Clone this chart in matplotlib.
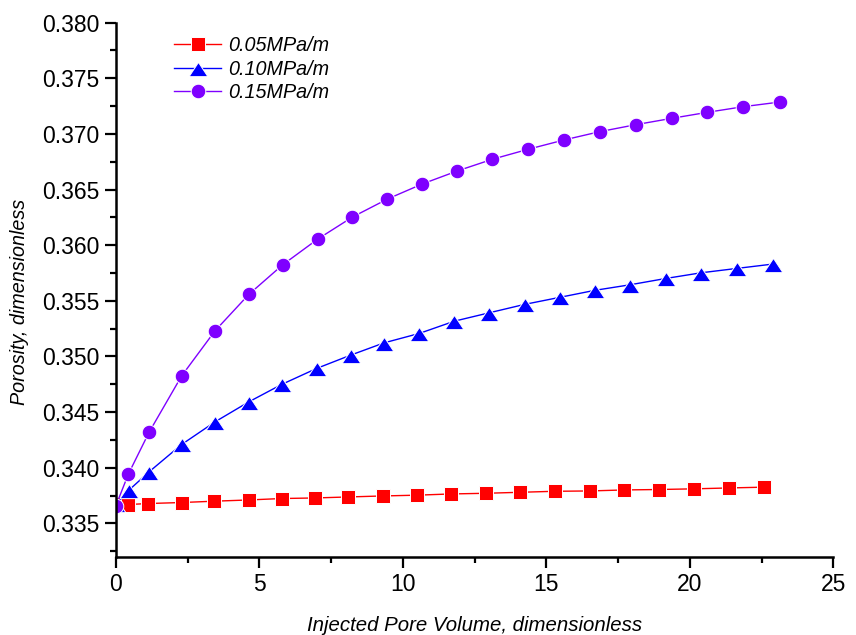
import matplotlib
matplotlib.use("Agg")
import matplotlib.pyplot as plt
from matplotlib.ticker import MultipleLocator, FormatStrFormatter

plt.rcParams['font.family'] = ['Liberation Sans', 'DejaVu Sans']

# Injected pore volume (dimensionless) and porosity for each pressure gradient
pv_005 = [0, 0.43, 1.13, 2.29, 3.43, 4.62, 5.78, 6.93, 8.09, 9.29, 10.48,
          11.67, 12.88, 14.08, 15.29, 16.50, 17.71, 18.92, 20.14, 21.36, 22.58]
phi_005 = [0.3367, 0.33669, 0.33678, 0.33687, 0.33699, 0.33710, 0.33723, 0.33728,
           0.33737, 0.33746, 0.33753, 0.33764, 0.33770, 0.33779, 0.33788, 0.33791,
           0.33800, 0.33804, 0.33810, 0.33818, 0.33825]

pv_010 = [0, 0.45, 1.15, 2.29, 3.45, 4.63, 5.77, 6.99, 8.18, 9.34, 10.57,
          11.79, 13.00, 14.24, 15.46, 16.68, 17.91, 19.16, 20.39, 21.63, 22.88]
phi_010 = [0.3367, 0.33798, 0.33962, 0.34209, 0.34412, 0.34592, 0.34748, 0.34892,
           0.35012, 0.35122, 0.35207, 0.35317, 0.35392, 0.35468, 0.35531, 0.35594,
           0.35644, 0.35701, 0.35752, 0.35791, 0.35830]

pv_015 = [0, 0.43, 1.15, 2.29, 3.45, 4.63, 5.81, 7.03, 8.24, 9.46, 10.67,
          11.89, 13.11, 14.36, 15.60, 16.85, 18.11, 19.36, 20.60, 21.86, 23.14]
phi_015 = [0.3366, 0.33942, 0.34317, 0.34826, 0.35230, 0.35558, 0.35824, 0.36055,
           0.36253, 0.36415, 0.36550, 0.36667, 0.36772, 0.36862, 0.36945, 0.37020,
           0.37083, 0.37140, 0.37194, 0.37245, 0.37287]

labels = ['0.05MPa/m', '0.10MPa/m', '0.15MPa/m']

fig = plt.figure(figsize=(8.56, 6.35), dpi=100)
ax = fig.add_axes([0.1355, 0.1233, 0.8382, 0.841])

# wider-than-tall triangle marker
tri = [(0, 0.75), (-1.15, -1.0), (1.15, -1.0), (0, 0.75)]

ax.plot(pv_005, phi_005, color='#FF0000', lw=1.0, marker='s', ms=9.5,
        mfc='#FF0000', mec='white', mew=0.7, label=labels[0])
ax.plot(pv_010, phi_010, color='#0000FF', lw=1.0, marker=tri, ms=13.5,
        mfc='#0000FF', mec='white', mew=0.7, label=labels[1])
ax.plot(pv_015, phi_015, color='#7F00FF', lw=1.0, marker='o', ms=10.5,
        mfc='#7F00FF', mec='white', mew=0.7, label=labels[2])

ax.set_xlim(0, 25)
ax.set_ylim(0.332, 0.380)
ax.xaxis.set_major_locator(MultipleLocator(5))
ax.xaxis.set_minor_locator(MultipleLocator(2.5))
ax.yaxis.set_major_locator(MultipleLocator(0.005))
ax.yaxis.set_minor_locator(MultipleLocator(0.0025))
ax.yaxis.set_major_formatter(FormatStrFormatter('%.3f'))

for side in ('top', 'right'):
    ax.spines[side].set_visible(False)
for side in ('left', 'bottom'):
    ax.spines[side].set_linewidth(1.8)

ax.tick_params(which='major', direction='out', length=8, width=1.6,
               labelsize=16.5, pad=4)
ax.tick_params(which='minor', direction='out', length=4.5, width=1.6)

ax.set_xlabel('Injected Pore Volume, dimensionless', fontsize=14.7,
              style='italic', labelpad=14)
ax.set_ylabel('Porosity, dimensionless', fontsize=14.2, style='italic')
ax.yaxis.set_label_coords(-0.121, 0.477)

leg = ax.legend(loc='upper left', bbox_to_anchor=(0.07, 0.99), frameon=False,
                prop={'size': 14.2, 'style': 'italic'}, handlelength=2.4,
                handletextpad=0.35, labelspacing=0.24, borderaxespad=0)

fig.savefig('out.png', dpi=100)
